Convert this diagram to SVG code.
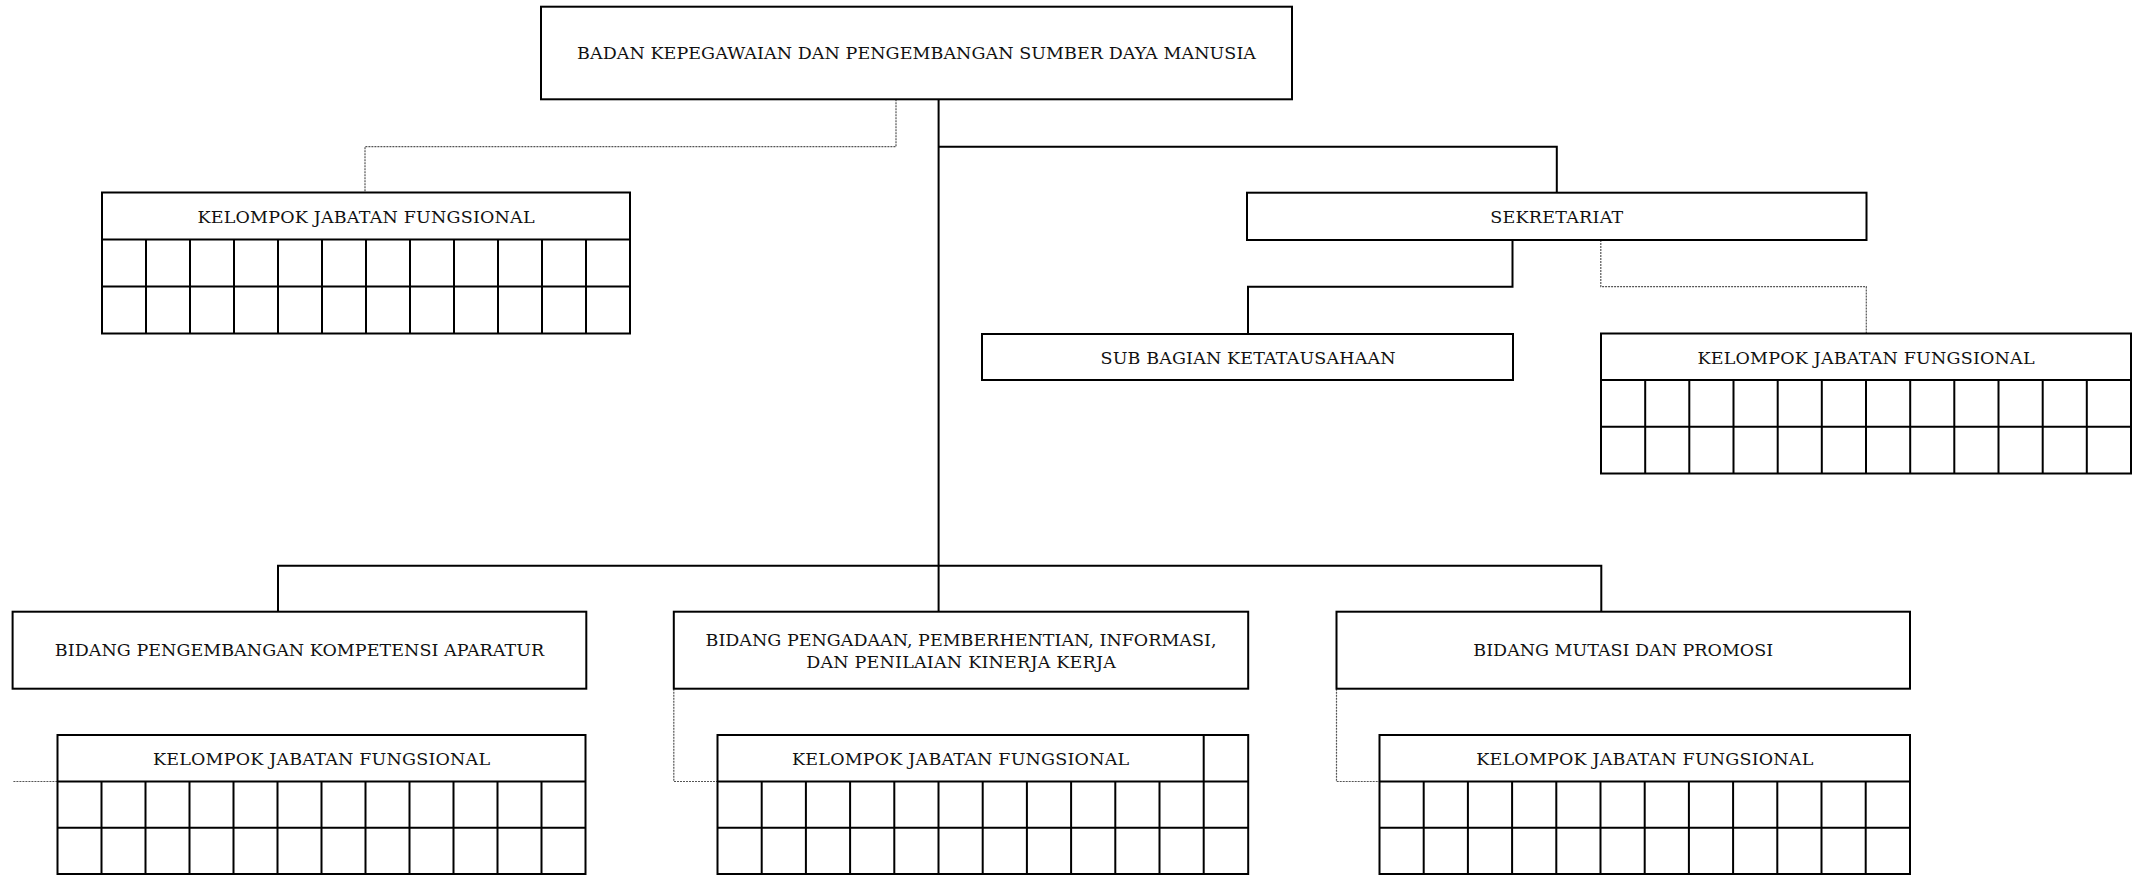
<svg xmlns="http://www.w3.org/2000/svg" width="2136" height="875" viewBox="0 0 2136 875">
  <style>
    .box { fill: #ffffff; stroke: #000000; stroke-width: 2; }
    .grid { fill: none; stroke: #000000; stroke-width: 2; }
    .solid { fill: none; stroke: #000000; stroke-width: 2; }
    .dotted { fill: none; stroke: #555555; stroke-width: 1.2; stroke-dasharray: 2 1; }
    .lbl { font-family: "DejaVu Serif", "Liberation Serif", serif; font-size: 17.5px; fill: #111111; text-anchor: middle; }
  </style>
  <rect width="2136" height="875" fill="#ffffff"/>

  <!-- connectors -->
  <g id="connectors">
    <!-- head to sekretariat and down to the bidang bus -->
    <path class="solid" d="M938.6 99.3 V565.7"/>
    <path class="solid" d="M938.6 146.7 H1556.8 V192.7"/>
    <path class="solid" d="M278 611.7 V565.7 H1601.3 V611.7"/>
    <path class="solid" d="M938.6 565.7 V611.7"/>
    <!-- sekretariat to sub bagian -->
    <path class="solid" d="M1512.5 240 V286.7 H1248 V334"/>
    <!-- functional groups (dotted) -->
    <path class="dotted" d="M896 99.3 V146.7 H365 V192.5"/>
    <path class="dotted" d="M1600.8 240 V286.7 H1866.3 V333.5"/>
    <path class="dotted" d="M13.4 781.5 H57.5"/>
    <path class="dotted" d="M673.8 688.7 V781.5 H717.5"/>
    <path class="dotted" d="M1336.5 688.7 V781.5 H1379.5"/>
  </g>

  <!-- head -->
  <g id="node-badan">
    <rect class="box" x="541" y="6.7" width="751" height="92.6"/>
    <text class="lbl" x="916.5" y="59" textLength="679" lengthAdjust="spacing">BADAN KEPEGAWAIAN DAN PENGEMBANGAN SUMBER DAYA MANUSIA</text>
  </g>

  <!-- functional group under head -->
  <g id="node-kjf-badan">
    <rect class="box" x="102" y="192.5" width="528" height="141"/>
    <path class="grid" d="M102 239.5 H630 M102 286.5 H630 M146 239.5 V333.5 M190 239.5 V333.5 M234 239.5 V333.5 M278 239.5 V333.5 M322 239.5 V333.5 M366 239.5 V333.5 M410 239.5 V333.5 M454 239.5 V333.5 M498 239.5 V333.5 M542 239.5 V333.5 M586 239.5 V333.5"/>
    <text class="lbl" x="366" y="222.5" textLength="337" lengthAdjust="spacing">KELOMPOK JABATAN FUNGSIONAL</text>
  </g>

  <!-- sekretariat -->
  <g id="node-sekretariat">
    <rect class="box" x="1247" y="192.7" width="619.5" height="47.3"/>
    <text class="lbl" x="1556.8" y="223" textLength="133" lengthAdjust="spacing">SEKRETARIAT</text>
  </g>

  <g id="node-subbag">
    <rect class="box" x="982" y="334" width="531" height="46"/>
    <text class="lbl" x="1248" y="363.5" textLength="295" lengthAdjust="spacing">SUB BAGIAN KETATAUSAHAAN</text>
  </g>

  <g id="node-kjf-sekretariat">
    <rect class="box" x="1601" y="333.5" width="530" height="140"/>
    <path class="grid" d="M1601 380 H2131 M1601 426.7 H2131 M1645.2 380 V473.5 M1689.3 380 V473.5 M1733.5 380 V473.5 M1777.7 380 V473.5 M1821.8 380 V473.5 M1866 380 V473.5 M1910.2 380 V473.5 M1954.3 380 V473.5 M1998.5 380 V473.5 M2042.7 380 V473.5 M2086.8 380 V473.5"/>
    <text class="lbl" x="1866" y="363.5" textLength="337" lengthAdjust="spacing">KELOMPOK JABATAN FUNGSIONAL</text>
  </g>

  <!-- bidang row -->
  <g id="node-bidang-pka">
    <rect class="box" x="12.6" y="611.7" width="573.7" height="77"/>
    <text class="lbl" x="299.5" y="656" textLength="489.5" lengthAdjust="spacing">BIDANG PENGEMBANGAN KOMPETENSI APARATUR</text>
  </g>

  <g id="node-kjf-pka">
    <rect class="box" x="57.5" y="735" width="528" height="139"/>
    <path class="grid" d="M57.5 781.5 H585.5 M57.5 827.7 H585.5 M101.5 781.5 V874 M145.5 781.5 V874 M189.5 781.5 V874 M233.5 781.5 V874 M277.5 781.5 V874 M321.5 781.5 V874 M365.5 781.5 V874 M409.5 781.5 V874 M453.5 781.5 V874 M497.5 781.5 V874 M541.5 781.5 V874"/>
    <text class="lbl" x="321.5" y="764.5" textLength="337" lengthAdjust="spacing">KELOMPOK JABATAN FUNGSIONAL</text>
  </g>

  <g id="node-bidang-pppik">
    <rect class="box" x="673.8" y="611.7" width="574.4" height="77"/>
    <text class="lbl" x="961" y="645.5" textLength="511" lengthAdjust="spacing">BIDANG PENGADAAN, PEMBERHENTIAN, INFORMASI,</text>
    <text class="lbl" x="961" y="667.5" textLength="309.6" lengthAdjust="spacing">DAN PENILAIAN KINERJA KERJA</text>
  </g>

  <g id="node-kjf-pppik">
    <rect class="box" x="717.5" y="735" width="530.7" height="139"/>
    <path class="grid" d="M717.5 781.5 H1248.2 M717.5 827.7 H1248.2 M761.7 781.5 V874 M805.9 781.5 V874 M850.1 781.5 V874 M894.3 781.5 V874 M938.5 781.5 V874 M982.7 781.5 V874 M1026.9 781.5 V874 M1071.1 781.5 V874 M1115.3 781.5 V874 M1159.5 781.5 V874 M1203.7 735 V874"/>
    <text class="lbl" x="960.6" y="764.5" textLength="337" lengthAdjust="spacing">KELOMPOK JABATAN FUNGSIONAL</text>
  </g>

  <g id="node-bidang-mp">
    <rect class="box" x="1336.5" y="611.7" width="573.5" height="77"/>
    <text class="lbl" x="1623.2" y="656" textLength="299.7" lengthAdjust="spacing">BIDANG MUTASI DAN PROMOSI</text>
  </g>

  <g id="node-kjf-mp">
    <rect class="box" x="1379.5" y="735" width="530.5" height="139"/>
    <path class="grid" d="M1379.5 781.5 H1910 M1379.5 827.7 H1910 M1423.7 781.5 V874 M1467.9 781.5 V874 M1512.1 781.5 V874 M1556.3 781.5 V874 M1600.5 781.5 V874 M1644.7 781.5 V874 M1688.9 781.5 V874 M1733.1 781.5 V874 M1777.3 781.5 V874 M1821.5 781.5 V874 M1865.7 781.5 V874"/>
    <text class="lbl" x="1644.8" y="764.5" textLength="337" lengthAdjust="spacing">KELOMPOK JABATAN FUNGSIONAL</text>
  </g>
</svg>
